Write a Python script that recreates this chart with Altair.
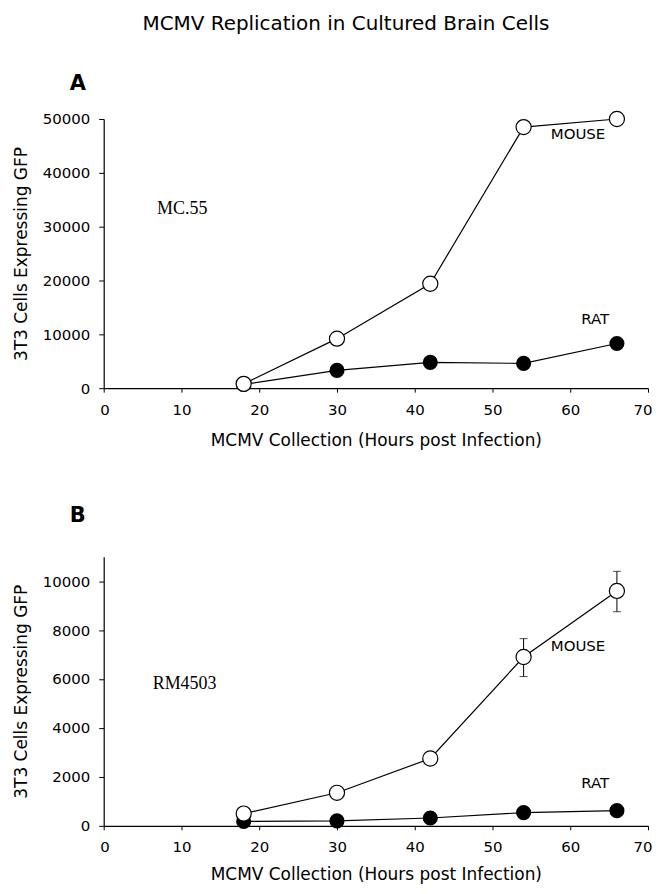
import altair as alt
import pandas as pd

# ---- data ----
hours = [18, 30, 42, 54, 66]
a_mouse = [800, 9200, 19400, 48500, 50000]
a_rat = [700, 3300, 4800, 4600, 8300]
b_mouse = [500, 1350, 2750, 6900, 9600]
b_rat = [180, 200, 320, 540, 620]
b_err_hours = [54, 66]
b_err_lo = [6100, 8750]
b_err_hi = [7650, 10400]

x_ticks = [0, 10, 20, 30, 40, 50, 60, 70]
a_y_ticks = [0, 10000, 20000, 30000, 40000, 50000]
b_y_ticks = [0, 2000, 4000, 6000, 8000, 10000]

title_text = "MCMV Replication in Cultured Brain Cells"
x_title = "MCMV Collection (Hours post Infection)"
y_title = "3T3 Cells Expressing GFP"

W = 546
FONT = "DejaVu Sans"


def panel(mouse, rat, ydom, yticks, height, letter, letter_y, strain, strain_pos,
          mouse_lbl, rat_lbl, err=None, main_title=False, xtp=15):
    df = pd.DataFrame({
        "h": hours * 2,
        "v": mouse + rat,
        "s": ["MOUSE"] * len(hours) + ["RAT"] * len(hours),
    })
    x = alt.X("h:Q", scale=alt.Scale(domain=[0, 70], nice=False),
              axis=alt.Axis(values=x_ticks, title=x_title, tickSize=4,
                            labelPadding=10, titlePadding=xtp, labelFlush=True,
                            labelFlushOffset=4))
    y = alt.Y("v:Q", scale=alt.Scale(domain=ydom, nice=False),
              axis=alt.Axis(values=yticks, format="d", title=y_title,
                            tickSize=5, labelPadding=9, titlePadding=12,
                            labelFlush=False))
    base = alt.Chart(df)
    lines = base.mark_line(color="black", strokeWidth=1.2).encode(
        x=x, y=y, detail="s:N")
    rat_pts = base.transform_filter(alt.datum.s == "RAT").mark_point(
        shape="circle", filled=True, color="black", size=230, opacity=1
    ).encode(x="h:Q", y="v:Q")
    mouse_pts = base.transform_filter(alt.datum.s == "MOUSE").mark_point(
        shape="circle", filled=False, fill="white", stroke="black",
        strokeWidth=1.2, size=230, opacity=1, fillOpacity=1
    ).encode(x="h:Q", y="v:Q")
    layers = [lines]
    if err is not None:
        edf = pd.DataFrame({"h": err[0], "lo": err[1], "hi": err[2]})
        eb = alt.Chart(edf)
        layers.append(eb.mark_rule(color="black", strokeWidth=1).encode(
            x="h:Q", y="lo:Q", y2="hi:Q"))
        layers.append(eb.mark_tick(color="black", orient="horizontal",
                                   size=8, thickness=1).encode(x="h:Q", y="lo:Q"))
        layers.append(eb.mark_tick(color="black", orient="horizontal",
                                   size=8, thickness=1).encode(x="h:Q", y="hi:Q"))
    layers += [rat_pts, mouse_pts]

    lbl = pd.DataFrame({
        "h": [mouse_lbl[0], rat_lbl[0]],
        "v": [mouse_lbl[1], rat_lbl[1]],
        "t": ["MOUSE", "RAT"],
    })
    layers.append(alt.Chart(lbl).mark_text(font=FONT, fontSize=15, color="black").encode(
        x="h:Q", y="v:Q", text="t:N"))
    sdf = pd.DataFrame({"h": [strain_pos[0]], "v": [strain_pos[1]], "t": [strain]})
    layers.append(alt.Chart(sdf).mark_text(font="Liberation Serif", fontSize=18,
                                           color="black").encode(
        x="h:Q", y="v:Q", text="t:N"))
    ldf = pd.DataFrame({"t": [letter]})
    layers.append(alt.Chart(ldf).mark_text(font=FONT, fontSize=21, fontWeight="bold",
                                           color="black").encode(
        x=alt.value(-26), y=alt.value(letter_y), text="t:N"))
    if main_title:
        tdf = pd.DataFrame({"t": [title_text]})
        layers.append(alt.Chart(tdf).mark_text(font=FONT, fontSize=20,
                                               color="black").encode(
            x=alt.value(243), y=alt.value(-95), text="t:N"))
    return alt.layer(*layers).properties(width=W, height=height)


pa = panel(a_mouse, a_rat, [0, 50000], a_y_ticks, 270, "A", -35, "MC.55",
           (10.1, 33300), (61.0, 47200), (63.2, 12800), main_title=True)
pb = panel(b_mouse, b_rat, [0, 11000], b_y_ticks, 270, "B", -41, "RM4503",
           (10.4, 5800), (61.0, 7360), (63.2, 1760),
           err=(b_err_hours, b_err_lo, b_err_hi), xtp=12)

chart = alt.vconcat(
    pa, pb, spacing=57, background="white",
    padding={"left": 4, "top": 5, "right": 0, "bottom": 0},
).configure_view(
    stroke=None
).configure_axis(
    grid=False, domainColor="black", tickColor="black", labelColor="black",
    titleColor="black", labelFont=FONT, labelFontSize=15, titleFont=FONT,
    titleFontSize=17, titleFontWeight="normal", domainWidth=1.2
)

chart.save("out.html", embed_options={"renderer": "svg", "actions": False})
